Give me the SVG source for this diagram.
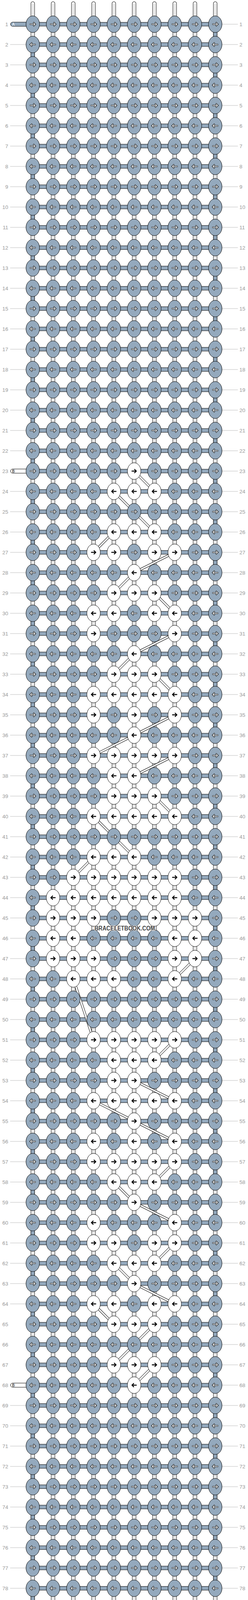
<svg xmlns="http://www.w3.org/2000/svg" width="636" height="4752" viewBox="0 0 636 4752">
<style>
.t{font-family:"Liberation Sans",Arial,sans-serif;font-size:13.5px;fill:#999}
.e{text-anchor:end}
.gl{stroke:#bbb;stroke-width:1;fill:none}
.bk{fill:none;stroke:#000}
</style>
<defs>
<g id="aw" fill="none"><path d="M-7.5 0H5.5M1.5-5L6.5 0L1.5 5" stroke="#1a1a1a" stroke-width="3.4"/><path d="M-6.8 0H5.5M2.1-4.3L6 0L2.1 4.3" stroke="#fff" stroke-width="1.4"/></g>
<g id="ab"><path d="M-6.5 0H5M0.5-5L5.5 0L0.5 5" fill="none" stroke="#000" stroke-width="2.4"/></g>
<g id="R"><ellipse rx="17.3" ry="21.3" fill="#94a9bd" stroke="#000"/><use href="#aw"/></g>
<g id="L"><ellipse rx="17.3" ry="21.3" fill="#94a9bd" stroke="#000"/><use href="#aw" transform="scale(-1 1)"/></g>
<g id="r"><ellipse rx="17.3" ry="21.3" fill="#fff" stroke="#000"/><use href="#ab"/></g>
<g id="l"><ellipse rx="17.3" ry="21.3" fill="#fff" stroke="#000"/><use href="#ab" transform="scale(-1 1)"/></g>
<path id="hb" d="M84 62h468m-468 52h468m-468 52h468m-468 52h468m-468 52h468m-468 52h468m-468 52h468m-468 52h468m-468 52h468m-468 52h468m-468 52h468m-468 52h468m-468 52h468m-468 52h468m-468 52h468m-468 52h468m-468 52h468m-468 52h468m-468 52h468m-468 52h468m-468 52h468m-468 52h468m-468 52h468m-468 52h468m-468 52h468m-468 52h468m-468 52h468m-468 52h468m-468 52h468m-468 52h468m-468 52h468m-468 52h468m-468 52h468m-468 52h468m-468 52h468m-468 52h468m-468 52h468m-468 52h468m-468 52h468m-468 52h468m-468 52h468m-468 52h468m-468 52h468m-468 52h468m-468 52h468m-468 52h468m-468 52h468m-468 52h468m-468 52h468m-468 52h468m-468 52h468m-468 52h468m-468 52h468m-468 52h468m-468 52h468m-468 52h468m-468 52h468m-468 52h468m-468 52h468m-468 52h468m-468 52h468m-468 52h468m-468 52h468m-468 52h468m-468 52h468m-468 52h468m-468 52h468m-468 52h468m-468 52h468m-468 52h468m-468 52h468m-468 52h468m-468 52h468m-468 52h468m-468 52h468m-468 52h468m-468 52h468m-468 52h468m-468 52h468m-468 52h468m-468 52h468m-468 52h468m-468 52h468m-468 52h468m-468 52h468m-468 52h468m-468 52h468m-468 52h468m-468 52h468"/>
<path id="vs" d="M84 9V4743M136 9V4743M188 9V4743M240 9V4743M292 9V4743M344 9V4743M396 9V4743M448 9V4743M500 9V4743M552 9V4743"/>
<path id="dg" d="M344 1206L396 1258M292 1258L344 1310M344 1310L396 1362M292 1362L240 1414M448 1414L344 1466M344 1466L292 1518M396 1518L448 1570M448 1622L344 1674M344 1674L292 1726M396 1726L448 1778M448 1830L344 1882M344 1882L240 1934M448 1934L344 1986M396 2038L448 2090M240 2090L292 2142M292 2142L344 2194M240 2194L188 2246M500 2454L448 2506M188 2506L240 2662M448 2662L396 2714M344 2766L448 2818M240 2818L344 2870M344 2870L448 2922M448 2974L396 3026M292 3026L344 3078M344 3078L448 3130M448 3182L396 3234M292 3234L344 3286M344 3286L448 3338M240 3338L292 3390M396 3390L344 3442M344 3442L292 3494M396 3494L344 3546"/>
</defs>
<rect width="636" height="4752" fill="#fff"/>
<g id="connectors">
<use href="#vs" class="bk" stroke-width="10.4" stroke-linecap="round"/>
<use href="#vs" fill="none" stroke="#fff" stroke-width="8.4" stroke-linecap="round"/>
<path class="gl" stroke-width="0.8" d="M82.5 9V4743M85.5 9V4743M134.5 9V4743M137.5 9V4743M186.5 9V4743M189.5 9V4743M238.5 9V4743M241.5 9V4743M290.5 9V4743M293.5 9V4743M342.5 9V4743M345.5 9V4743M394.5 9V4743M397.5 9V4743M446.5 9V4743M449.5 9V4743M498.5 9V4743M501.5 9V4743M550.5 9V4743M553.5 9V4743"/>
<path d="M552 62V4690M84 114V4690" class="bk" stroke-width="10.4" stroke-dasharray="52 52"/>
<path d="M552 62V4690M84 114V4690" fill="none" stroke="#94a9bd" stroke-width="8.4" stroke-dasharray="52 52"/>
<use href="#hb" class="bk" stroke-width="10.6"/>
<use href="#hb" fill="none" stroke="#94a9bd" stroke-width="8.6"/>
<rect x="27" y="56.7" width="60" height="10.6" rx="5.3" fill="#94a9bd" stroke="#000"/>
<rect x="27" y="4684.7" width="60" height="10.6" rx="5.3" fill="#94a9bd" stroke="#000"/>
<rect x="27" y="1200.7" width="60" height="10.6" rx="5.3" fill="#fff" stroke="#000"/>
<rect x="27" y="3540.7" width="60" height="10.6" rx="5.3" fill="#fff" stroke="#000"/>
<use href="#dg" class="bk" stroke-width="6"/>
<use href="#dg" fill="none" stroke="#fff" stroke-width="4"/>
</g>
<g id="knots">
<g transform="translate(0 62)"><g id="n1-1"><use href="#R" x="84"/></g><g id="n1-2"><use href="#R" x="136"/></g><g id="n1-3"><use href="#R" x="188"/></g><g id="n1-4"><use href="#R" x="240"/></g><g id="n1-5"><use href="#R" x="292"/></g><g id="n1-6"><use href="#R" x="344"/></g><g id="n1-7"><use href="#R" x="396"/></g><g id="n1-8"><use href="#R" x="448"/></g><g id="n1-9"><use href="#R" x="500"/></g><g id="n1-10"><use href="#R" x="552"/></g></g>
<g transform="translate(0 114)"><g id="n2-1"><use href="#L" x="84"/></g><g id="n2-2"><use href="#L" x="136"/></g><g id="n2-3"><use href="#L" x="188"/></g><g id="n2-4"><use href="#L" x="240"/></g><g id="n2-5"><use href="#L" x="292"/></g><g id="n2-6"><use href="#L" x="344"/></g><g id="n2-7"><use href="#L" x="396"/></g><g id="n2-8"><use href="#L" x="448"/></g><g id="n2-9"><use href="#L" x="500"/></g><g id="n2-10"><use href="#L" x="552"/></g></g>
<g transform="translate(0 166)"><g id="n3-1"><use href="#R" x="84"/></g><g id="n3-2"><use href="#R" x="136"/></g><g id="n3-3"><use href="#R" x="188"/></g><g id="n3-4"><use href="#R" x="240"/></g><g id="n3-5"><use href="#R" x="292"/></g><g id="n3-6"><use href="#R" x="344"/></g><g id="n3-7"><use href="#R" x="396"/></g><g id="n3-8"><use href="#R" x="448"/></g><g id="n3-9"><use href="#R" x="500"/></g><g id="n3-10"><use href="#R" x="552"/></g></g>
<g transform="translate(0 218)"><g id="n4-1"><use href="#L" x="84"/></g><g id="n4-2"><use href="#L" x="136"/></g><g id="n4-3"><use href="#L" x="188"/></g><g id="n4-4"><use href="#L" x="240"/></g><g id="n4-5"><use href="#L" x="292"/></g><g id="n4-6"><use href="#L" x="344"/></g><g id="n4-7"><use href="#L" x="396"/></g><g id="n4-8"><use href="#L" x="448"/></g><g id="n4-9"><use href="#L" x="500"/></g><g id="n4-10"><use href="#L" x="552"/></g></g>
<g transform="translate(0 270)"><g id="n5-1"><use href="#R" x="84"/></g><g id="n5-2"><use href="#R" x="136"/></g><g id="n5-3"><use href="#R" x="188"/></g><g id="n5-4"><use href="#R" x="240"/></g><g id="n5-5"><use href="#R" x="292"/></g><g id="n5-6"><use href="#R" x="344"/></g><g id="n5-7"><use href="#R" x="396"/></g><g id="n5-8"><use href="#R" x="448"/></g><g id="n5-9"><use href="#R" x="500"/></g><g id="n5-10"><use href="#R" x="552"/></g></g>
<g transform="translate(0 322)"><g id="n6-1"><use href="#L" x="84"/></g><g id="n6-2"><use href="#L" x="136"/></g><g id="n6-3"><use href="#L" x="188"/></g><g id="n6-4"><use href="#L" x="240"/></g><g id="n6-5"><use href="#L" x="292"/></g><g id="n6-6"><use href="#L" x="344"/></g><g id="n6-7"><use href="#L" x="396"/></g><g id="n6-8"><use href="#L" x="448"/></g><g id="n6-9"><use href="#L" x="500"/></g><g id="n6-10"><use href="#L" x="552"/></g></g>
<g transform="translate(0 374)"><g id="n7-1"><use href="#R" x="84"/></g><g id="n7-2"><use href="#R" x="136"/></g><g id="n7-3"><use href="#R" x="188"/></g><g id="n7-4"><use href="#R" x="240"/></g><g id="n7-5"><use href="#R" x="292"/></g><g id="n7-6"><use href="#R" x="344"/></g><g id="n7-7"><use href="#R" x="396"/></g><g id="n7-8"><use href="#R" x="448"/></g><g id="n7-9"><use href="#R" x="500"/></g><g id="n7-10"><use href="#R" x="552"/></g></g>
<g transform="translate(0 426)"><g id="n8-1"><use href="#L" x="84"/></g><g id="n8-2"><use href="#L" x="136"/></g><g id="n8-3"><use href="#L" x="188"/></g><g id="n8-4"><use href="#L" x="240"/></g><g id="n8-5"><use href="#L" x="292"/></g><g id="n8-6"><use href="#L" x="344"/></g><g id="n8-7"><use href="#L" x="396"/></g><g id="n8-8"><use href="#L" x="448"/></g><g id="n8-9"><use href="#L" x="500"/></g><g id="n8-10"><use href="#L" x="552"/></g></g>
<g transform="translate(0 478)"><g id="n9-1"><use href="#R" x="84"/></g><g id="n9-2"><use href="#R" x="136"/></g><g id="n9-3"><use href="#R" x="188"/></g><g id="n9-4"><use href="#R" x="240"/></g><g id="n9-5"><use href="#R" x="292"/></g><g id="n9-6"><use href="#R" x="344"/></g><g id="n9-7"><use href="#R" x="396"/></g><g id="n9-8"><use href="#R" x="448"/></g><g id="n9-9"><use href="#R" x="500"/></g><g id="n9-10"><use href="#R" x="552"/></g></g>
<g transform="translate(0 530)"><g id="n10-1"><use href="#L" x="84"/></g><g id="n10-2"><use href="#L" x="136"/></g><g id="n10-3"><use href="#L" x="188"/></g><g id="n10-4"><use href="#L" x="240"/></g><g id="n10-5"><use href="#L" x="292"/></g><g id="n10-6"><use href="#L" x="344"/></g><g id="n10-7"><use href="#L" x="396"/></g><g id="n10-8"><use href="#L" x="448"/></g><g id="n10-9"><use href="#L" x="500"/></g><g id="n10-10"><use href="#L" x="552"/></g></g>
<g transform="translate(0 582)"><g id="n11-1"><use href="#R" x="84"/></g><g id="n11-2"><use href="#R" x="136"/></g><g id="n11-3"><use href="#R" x="188"/></g><g id="n11-4"><use href="#R" x="240"/></g><g id="n11-5"><use href="#R" x="292"/></g><g id="n11-6"><use href="#R" x="344"/></g><g id="n11-7"><use href="#R" x="396"/></g><g id="n11-8"><use href="#R" x="448"/></g><g id="n11-9"><use href="#R" x="500"/></g><g id="n11-10"><use href="#R" x="552"/></g></g>
<g transform="translate(0 634)"><g id="n12-1"><use href="#L" x="84"/></g><g id="n12-2"><use href="#L" x="136"/></g><g id="n12-3"><use href="#L" x="188"/></g><g id="n12-4"><use href="#L" x="240"/></g><g id="n12-5"><use href="#L" x="292"/></g><g id="n12-6"><use href="#L" x="344"/></g><g id="n12-7"><use href="#L" x="396"/></g><g id="n12-8"><use href="#L" x="448"/></g><g id="n12-9"><use href="#L" x="500"/></g><g id="n12-10"><use href="#L" x="552"/></g></g>
<g transform="translate(0 686)"><g id="n13-1"><use href="#R" x="84"/></g><g id="n13-2"><use href="#R" x="136"/></g><g id="n13-3"><use href="#R" x="188"/></g><g id="n13-4"><use href="#R" x="240"/></g><g id="n13-5"><use href="#R" x="292"/></g><g id="n13-6"><use href="#R" x="344"/></g><g id="n13-7"><use href="#R" x="396"/></g><g id="n13-8"><use href="#R" x="448"/></g><g id="n13-9"><use href="#R" x="500"/></g><g id="n13-10"><use href="#R" x="552"/></g></g>
<g transform="translate(0 738)"><g id="n14-1"><use href="#L" x="84"/></g><g id="n14-2"><use href="#L" x="136"/></g><g id="n14-3"><use href="#L" x="188"/></g><g id="n14-4"><use href="#L" x="240"/></g><g id="n14-5"><use href="#L" x="292"/></g><g id="n14-6"><use href="#L" x="344"/></g><g id="n14-7"><use href="#L" x="396"/></g><g id="n14-8"><use href="#L" x="448"/></g><g id="n14-9"><use href="#L" x="500"/></g><g id="n14-10"><use href="#L" x="552"/></g></g>
<g transform="translate(0 790)"><g id="n15-1"><use href="#R" x="84"/></g><g id="n15-2"><use href="#R" x="136"/></g><g id="n15-3"><use href="#R" x="188"/></g><g id="n15-4"><use href="#R" x="240"/></g><g id="n15-5"><use href="#R" x="292"/></g><g id="n15-6"><use href="#R" x="344"/></g><g id="n15-7"><use href="#R" x="396"/></g><g id="n15-8"><use href="#R" x="448"/></g><g id="n15-9"><use href="#R" x="500"/></g><g id="n15-10"><use href="#R" x="552"/></g></g>
<g transform="translate(0 842)"><g id="n16-1"><use href="#L" x="84"/></g><g id="n16-2"><use href="#L" x="136"/></g><g id="n16-3"><use href="#L" x="188"/></g><g id="n16-4"><use href="#L" x="240"/></g><g id="n16-5"><use href="#L" x="292"/></g><g id="n16-6"><use href="#L" x="344"/></g><g id="n16-7"><use href="#L" x="396"/></g><g id="n16-8"><use href="#L" x="448"/></g><g id="n16-9"><use href="#L" x="500"/></g><g id="n16-10"><use href="#L" x="552"/></g></g>
<g transform="translate(0 894)"><g id="n17-1"><use href="#R" x="84"/></g><g id="n17-2"><use href="#R" x="136"/></g><g id="n17-3"><use href="#R" x="188"/></g><g id="n17-4"><use href="#R" x="240"/></g><g id="n17-5"><use href="#R" x="292"/></g><g id="n17-6"><use href="#R" x="344"/></g><g id="n17-7"><use href="#R" x="396"/></g><g id="n17-8"><use href="#R" x="448"/></g><g id="n17-9"><use href="#R" x="500"/></g><g id="n17-10"><use href="#R" x="552"/></g></g>
<g transform="translate(0 946)"><g id="n18-1"><use href="#L" x="84"/></g><g id="n18-2"><use href="#L" x="136"/></g><g id="n18-3"><use href="#L" x="188"/></g><g id="n18-4"><use href="#L" x="240"/></g><g id="n18-5"><use href="#L" x="292"/></g><g id="n18-6"><use href="#L" x="344"/></g><g id="n18-7"><use href="#L" x="396"/></g><g id="n18-8"><use href="#L" x="448"/></g><g id="n18-9"><use href="#L" x="500"/></g><g id="n18-10"><use href="#L" x="552"/></g></g>
<g transform="translate(0 998)"><g id="n19-1"><use href="#R" x="84"/></g><g id="n19-2"><use href="#R" x="136"/></g><g id="n19-3"><use href="#R" x="188"/></g><g id="n19-4"><use href="#R" x="240"/></g><g id="n19-5"><use href="#R" x="292"/></g><g id="n19-6"><use href="#R" x="344"/></g><g id="n19-7"><use href="#R" x="396"/></g><g id="n19-8"><use href="#R" x="448"/></g><g id="n19-9"><use href="#R" x="500"/></g><g id="n19-10"><use href="#R" x="552"/></g></g>
<g transform="translate(0 1050)"><g id="n20-1"><use href="#L" x="84"/></g><g id="n20-2"><use href="#L" x="136"/></g><g id="n20-3"><use href="#L" x="188"/></g><g id="n20-4"><use href="#L" x="240"/></g><g id="n20-5"><use href="#L" x="292"/></g><g id="n20-6"><use href="#L" x="344"/></g><g id="n20-7"><use href="#L" x="396"/></g><g id="n20-8"><use href="#L" x="448"/></g><g id="n20-9"><use href="#L" x="500"/></g><g id="n20-10"><use href="#L" x="552"/></g></g>
<g transform="translate(0 1102)"><g id="n21-1"><use href="#R" x="84"/></g><g id="n21-2"><use href="#R" x="136"/></g><g id="n21-3"><use href="#R" x="188"/></g><g id="n21-4"><use href="#R" x="240"/></g><g id="n21-5"><use href="#R" x="292"/></g><g id="n21-6"><use href="#R" x="344"/></g><g id="n21-7"><use href="#R" x="396"/></g><g id="n21-8"><use href="#R" x="448"/></g><g id="n21-9"><use href="#R" x="500"/></g><g id="n21-10"><use href="#R" x="552"/></g></g>
<g transform="translate(0 1154)"><g id="n22-1"><use href="#L" x="84"/></g><g id="n22-2"><use href="#L" x="136"/></g><g id="n22-3"><use href="#L" x="188"/></g><g id="n22-4"><use href="#L" x="240"/></g><g id="n22-5"><use href="#L" x="292"/></g><g id="n22-6"><use href="#L" x="344"/></g><g id="n22-7"><use href="#L" x="396"/></g><g id="n22-8"><use href="#L" x="448"/></g><g id="n22-9"><use href="#L" x="500"/></g><g id="n22-10"><use href="#L" x="552"/></g></g>
<g transform="translate(0 1206)"><g id="n23-1"><use href="#R" x="84"/></g><g id="n23-2"><use href="#R" x="136"/></g><g id="n23-3"><use href="#R" x="188"/></g><g id="n23-4"><use href="#R" x="240"/></g><g id="n23-5"><use href="#R" x="292"/></g><g id="n23-6"><use href="#r" x="344"/></g><g id="n23-7"><use href="#R" x="396"/></g><g id="n23-8"><use href="#R" x="448"/></g><g id="n23-9"><use href="#R" x="500"/></g><g id="n23-10"><use href="#R" x="552"/></g></g>
<g transform="translate(0 1258)"><g id="n24-1"><use href="#L" x="84"/></g><g id="n24-2"><use href="#L" x="136"/></g><g id="n24-3"><use href="#L" x="188"/></g><g id="n24-4"><use href="#L" x="240"/></g><g id="n24-5"><use href="#l" x="292"/></g><g id="n24-6"><use href="#l" x="344"/></g><g id="n24-7"><use href="#l" x="396"/></g><g id="n24-8"><use href="#L" x="448"/></g><g id="n24-9"><use href="#L" x="500"/></g><g id="n24-10"><use href="#L" x="552"/></g></g>
<g transform="translate(0 1310)"><g id="n25-1"><use href="#R" x="84"/></g><g id="n25-2"><use href="#R" x="136"/></g><g id="n25-3"><use href="#R" x="188"/></g><g id="n25-4"><use href="#R" x="240"/></g><g id="n25-5"><use href="#R" x="292"/></g><g id="n25-6"><use href="#R" x="344"/></g><g id="n25-7"><use href="#R" x="396"/></g><g id="n25-8"><use href="#R" x="448"/></g><g id="n25-9"><use href="#R" x="500"/></g><g id="n25-10"><use href="#R" x="552"/></g></g>
<g transform="translate(0 1362)"><g id="n26-1"><use href="#L" x="84"/></g><g id="n26-2"><use href="#L" x="136"/></g><g id="n26-3"><use href="#L" x="188"/></g><g id="n26-4"><use href="#L" x="240"/></g><g id="n26-5"><use href="#l" x="292"/></g><g id="n26-6"><use href="#l" x="344"/></g><g id="n26-7"><use href="#l" x="396"/></g><g id="n26-8"><use href="#L" x="448"/></g><g id="n26-9"><use href="#L" x="500"/></g><g id="n26-10"><use href="#L" x="552"/></g></g>
<g transform="translate(0 1414)"><g id="n27-1"><use href="#R" x="84"/></g><g id="n27-2"><use href="#R" x="136"/></g><g id="n27-3"><use href="#R" x="188"/></g><g id="n27-4"><use href="#r" x="240"/></g><g id="n27-5"><use href="#r" x="292"/></g><g id="n27-6"><use href="#R" x="344"/></g><g id="n27-7"><use href="#r" x="396"/></g><g id="n27-8"><use href="#r" x="448"/></g><g id="n27-9"><use href="#R" x="500"/></g><g id="n27-10"><use href="#R" x="552"/></g></g>
<g transform="translate(0 1466)"><g id="n28-1"><use href="#L" x="84"/></g><g id="n28-2"><use href="#L" x="136"/></g><g id="n28-3"><use href="#L" x="188"/></g><g id="n28-4"><use href="#L" x="240"/></g><g id="n28-5"><use href="#L" x="292"/></g><g id="n28-6"><use href="#l" x="344"/></g><g id="n28-7"><use href="#L" x="396"/></g><g id="n28-8"><use href="#L" x="448"/></g><g id="n28-9"><use href="#L" x="500"/></g><g id="n28-10"><use href="#L" x="552"/></g></g>
<g transform="translate(0 1518)"><g id="n29-1"><use href="#R" x="84"/></g><g id="n29-2"><use href="#R" x="136"/></g><g id="n29-3"><use href="#R" x="188"/></g><g id="n29-4"><use href="#R" x="240"/></g><g id="n29-5"><use href="#r" x="292"/></g><g id="n29-6"><use href="#r" x="344"/></g><g id="n29-7"><use href="#r" x="396"/></g><g id="n29-8"><use href="#R" x="448"/></g><g id="n29-9"><use href="#R" x="500"/></g><g id="n29-10"><use href="#R" x="552"/></g></g>
<g transform="translate(0 1570)"><g id="n30-1"><use href="#L" x="84"/></g><g id="n30-2"><use href="#L" x="136"/></g><g id="n30-3"><use href="#L" x="188"/></g><g id="n30-4"><use href="#l" x="240"/></g><g id="n30-5"><use href="#l" x="292"/></g><g id="n30-6"><use href="#L" x="344"/></g><g id="n30-7"><use href="#l" x="396"/></g><g id="n30-8"><use href="#l" x="448"/></g><g id="n30-9"><use href="#L" x="500"/></g><g id="n30-10"><use href="#L" x="552"/></g></g>
<g transform="translate(0 1622)"><g id="n31-1"><use href="#R" x="84"/></g><g id="n31-2"><use href="#R" x="136"/></g><g id="n31-3"><use href="#R" x="188"/></g><g id="n31-4"><use href="#r" x="240"/></g><g id="n31-5"><use href="#R" x="292"/></g><g id="n31-6"><use href="#R" x="344"/></g><g id="n31-7"><use href="#R" x="396"/></g><g id="n31-8"><use href="#r" x="448"/></g><g id="n31-9"><use href="#R" x="500"/></g><g id="n31-10"><use href="#R" x="552"/></g></g>
<g transform="translate(0 1674)"><g id="n32-1"><use href="#L" x="84"/></g><g id="n32-2"><use href="#L" x="136"/></g><g id="n32-3"><use href="#L" x="188"/></g><g id="n32-4"><use href="#L" x="240"/></g><g id="n32-5"><use href="#L" x="292"/></g><g id="n32-6"><use href="#l" x="344"/></g><g id="n32-7"><use href="#L" x="396"/></g><g id="n32-8"><use href="#L" x="448"/></g><g id="n32-9"><use href="#L" x="500"/></g><g id="n32-10"><use href="#L" x="552"/></g></g>
<g transform="translate(0 1726)"><g id="n33-1"><use href="#R" x="84"/></g><g id="n33-2"><use href="#R" x="136"/></g><g id="n33-3"><use href="#R" x="188"/></g><g id="n33-4"><use href="#R" x="240"/></g><g id="n33-5"><use href="#r" x="292"/></g><g id="n33-6"><use href="#r" x="344"/></g><g id="n33-7"><use href="#r" x="396"/></g><g id="n33-8"><use href="#R" x="448"/></g><g id="n33-9"><use href="#R" x="500"/></g><g id="n33-10"><use href="#R" x="552"/></g></g>
<g transform="translate(0 1778)"><g id="n34-1"><use href="#L" x="84"/></g><g id="n34-2"><use href="#L" x="136"/></g><g id="n34-3"><use href="#L" x="188"/></g><g id="n34-4"><use href="#l" x="240"/></g><g id="n34-5"><use href="#l" x="292"/></g><g id="n34-6"><use href="#l" x="344"/></g><g id="n34-7"><use href="#l" x="396"/></g><g id="n34-8"><use href="#l" x="448"/></g><g id="n34-9"><use href="#L" x="500"/></g><g id="n34-10"><use href="#L" x="552"/></g></g>
<g transform="translate(0 1830)"><g id="n35-1"><use href="#R" x="84"/></g><g id="n35-2"><use href="#R" x="136"/></g><g id="n35-3"><use href="#R" x="188"/></g><g id="n35-4"><use href="#r" x="240"/></g><g id="n35-5"><use href="#R" x="292"/></g><g id="n35-6"><use href="#r" x="344"/></g><g id="n35-7"><use href="#R" x="396"/></g><g id="n35-8"><use href="#r" x="448"/></g><g id="n35-9"><use href="#R" x="500"/></g><g id="n35-10"><use href="#R" x="552"/></g></g>
<g transform="translate(0 1882)"><g id="n36-1"><use href="#L" x="84"/></g><g id="n36-2"><use href="#L" x="136"/></g><g id="n36-3"><use href="#L" x="188"/></g><g id="n36-4"><use href="#L" x="240"/></g><g id="n36-5"><use href="#L" x="292"/></g><g id="n36-6"><use href="#l" x="344"/></g><g id="n36-7"><use href="#L" x="396"/></g><g id="n36-8"><use href="#L" x="448"/></g><g id="n36-9"><use href="#L" x="500"/></g><g id="n36-10"><use href="#L" x="552"/></g></g>
<g transform="translate(0 1934)"><g id="n37-1"><use href="#R" x="84"/></g><g id="n37-2"><use href="#R" x="136"/></g><g id="n37-3"><use href="#R" x="188"/></g><g id="n37-4"><use href="#r" x="240"/></g><g id="n37-5"><use href="#r" x="292"/></g><g id="n37-6"><use href="#r" x="344"/></g><g id="n37-7"><use href="#r" x="396"/></g><g id="n37-8"><use href="#r" x="448"/></g><g id="n37-9"><use href="#R" x="500"/></g><g id="n37-10"><use href="#R" x="552"/></g></g>
<g transform="translate(0 1986)"><g id="n38-1"><use href="#L" x="84"/></g><g id="n38-2"><use href="#L" x="136"/></g><g id="n38-3"><use href="#L" x="188"/></g><g id="n38-4"><use href="#L" x="240"/></g><g id="n38-5"><use href="#l" x="292"/></g><g id="n38-6"><use href="#l" x="344"/></g><g id="n38-7"><use href="#L" x="396"/></g><g id="n38-8"><use href="#L" x="448"/></g><g id="n38-9"><use href="#L" x="500"/></g><g id="n38-10"><use href="#L" x="552"/></g></g>
<g transform="translate(0 2038)"><g id="n39-1"><use href="#R" x="84"/></g><g id="n39-2"><use href="#R" x="136"/></g><g id="n39-3"><use href="#R" x="188"/></g><g id="n39-4"><use href="#R" x="240"/></g><g id="n39-5"><use href="#r" x="292"/></g><g id="n39-6"><use href="#r" x="344"/></g><g id="n39-7"><use href="#r" x="396"/></g><g id="n39-8"><use href="#R" x="448"/></g><g id="n39-9"><use href="#R" x="500"/></g><g id="n39-10"><use href="#R" x="552"/></g></g>
<g transform="translate(0 2090)"><g id="n40-1"><use href="#L" x="84"/></g><g id="n40-2"><use href="#L" x="136"/></g><g id="n40-3"><use href="#L" x="188"/></g><g id="n40-4"><use href="#l" x="240"/></g><g id="n40-5"><use href="#l" x="292"/></g><g id="n40-6"><use href="#l" x="344"/></g><g id="n40-7"><use href="#l" x="396"/></g><g id="n40-8"><use href="#l" x="448"/></g><g id="n40-9"><use href="#L" x="500"/></g><g id="n40-10"><use href="#L" x="552"/></g></g>
<g transform="translate(0 2142)"><g id="n41-1"><use href="#R" x="84"/></g><g id="n41-2"><use href="#R" x="136"/></g><g id="n41-3"><use href="#R" x="188"/></g><g id="n41-4"><use href="#R" x="240"/></g><g id="n41-5"><use href="#R" x="292"/></g><g id="n41-6"><use href="#R" x="344"/></g><g id="n41-7"><use href="#R" x="396"/></g><g id="n41-8"><use href="#R" x="448"/></g><g id="n41-9"><use href="#R" x="500"/></g><g id="n41-10"><use href="#R" x="552"/></g></g>
<g transform="translate(0 2194)"><g id="n42-1"><use href="#L" x="84"/></g><g id="n42-2"><use href="#L" x="136"/></g><g id="n42-3"><use href="#L" x="188"/></g><g id="n42-4"><use href="#l" x="240"/></g><g id="n42-5"><use href="#l" x="292"/></g><g id="n42-6"><use href="#l" x="344"/></g><g id="n42-7"><use href="#L" x="396"/></g><g id="n42-8"><use href="#L" x="448"/></g><g id="n42-9"><use href="#L" x="500"/></g><g id="n42-10"><use href="#L" x="552"/></g></g>
<g transform="translate(0 2246)"><g id="n43-1"><use href="#R" x="84"/></g><g id="n43-2"><use href="#R" x="136"/></g><g id="n43-3"><use href="#r" x="188"/></g><g id="n43-4"><use href="#r" x="240"/></g><g id="n43-5"><use href="#r" x="292"/></g><g id="n43-6"><use href="#r" x="344"/></g><g id="n43-7"><use href="#r" x="396"/></g><g id="n43-8"><use href="#r" x="448"/></g><g id="n43-9"><use href="#R" x="500"/></g><g id="n43-10"><use href="#R" x="552"/></g></g>
<g transform="translate(0 2298)"><g id="n44-1"><use href="#L" x="84"/></g><g id="n44-2"><use href="#l" x="136"/></g><g id="n44-3"><use href="#l" x="188"/></g><g id="n44-4"><use href="#l" x="240"/></g><g id="n44-5"><use href="#l" x="292"/></g><g id="n44-6"><use href="#l" x="344"/></g><g id="n44-7"><use href="#l" x="396"/></g><g id="n44-8"><use href="#l" x="448"/></g><g id="n44-9"><use href="#L" x="500"/></g><g id="n44-10"><use href="#L" x="552"/></g></g>
<g transform="translate(0 2350)"><g id="n45-1"><use href="#R" x="84"/></g><g id="n45-2"><use href="#r" x="136"/></g><g id="n45-3"><use href="#r" x="188"/></g><g id="n45-4"><use href="#r" x="240"/></g><g id="n45-5"><use href="#R" x="292"/></g><g id="n45-6"><use href="#R" x="344"/></g><g id="n45-7"><use href="#r" x="396"/></g><g id="n45-8"><use href="#r" x="448"/></g><g id="n45-9"><use href="#r" x="500"/></g><g id="n45-10"><use href="#R" x="552"/></g></g>
<g transform="translate(0 2402)"><g id="n46-1"><use href="#L" x="84"/></g><g id="n46-2"><use href="#l" x="136"/></g><g id="n46-3"><use href="#l" x="188"/></g><g id="n46-4"><use href="#L" x="240"/></g><g id="n46-5"><use href="#L" x="292"/></g><g id="n46-6"><use href="#L" x="344"/></g><g id="n46-7"><use href="#L" x="396"/></g><g id="n46-8"><use href="#l" x="448"/></g><g id="n46-9"><use href="#l" x="500"/></g><g id="n46-10"><use href="#L" x="552"/></g></g>
<g transform="translate(0 2454)"><g id="n47-1"><use href="#R" x="84"/></g><g id="n47-2"><use href="#r" x="136"/></g><g id="n47-3"><use href="#r" x="188"/></g><g id="n47-4"><use href="#r" x="240"/></g><g id="n47-5"><use href="#R" x="292"/></g><g id="n47-6"><use href="#R" x="344"/></g><g id="n47-7"><use href="#R" x="396"/></g><g id="n47-8"><use href="#r" x="448"/></g><g id="n47-9"><use href="#r" x="500"/></g><g id="n47-10"><use href="#R" x="552"/></g></g>
<g transform="translate(0 2506)"><g id="n48-1"><use href="#L" x="84"/></g><g id="n48-2"><use href="#L" x="136"/></g><g id="n48-3"><use href="#l" x="188"/></g><g id="n48-4"><use href="#l" x="240"/></g><g id="n48-5"><use href="#l" x="292"/></g><g id="n48-6"><use href="#L" x="344"/></g><g id="n48-7"><use href="#L" x="396"/></g><g id="n48-8"><use href="#l" x="448"/></g><g id="n48-9"><use href="#L" x="500"/></g><g id="n48-10"><use href="#L" x="552"/></g></g>
<g transform="translate(0 2558)"><g id="n49-1"><use href="#R" x="84"/></g><g id="n49-2"><use href="#R" x="136"/></g><g id="n49-3"><use href="#R" x="188"/></g><g id="n49-4"><use href="#R" x="240"/></g><g id="n49-5"><use href="#R" x="292"/></g><g id="n49-6"><use href="#R" x="344"/></g><g id="n49-7"><use href="#R" x="396"/></g><g id="n49-8"><use href="#R" x="448"/></g><g id="n49-9"><use href="#R" x="500"/></g><g id="n49-10"><use href="#R" x="552"/></g></g>
<g transform="translate(0 2610)"><g id="n50-1"><use href="#L" x="84"/></g><g id="n50-2"><use href="#L" x="136"/></g><g id="n50-3"><use href="#L" x="188"/></g><g id="n50-4"><use href="#L" x="240"/></g><g id="n50-5"><use href="#L" x="292"/></g><g id="n50-6"><use href="#L" x="344"/></g><g id="n50-7"><use href="#L" x="396"/></g><g id="n50-8"><use href="#L" x="448"/></g><g id="n50-9"><use href="#L" x="500"/></g><g id="n50-10"><use href="#L" x="552"/></g></g>
<g transform="translate(0 2662)"><g id="n51-1"><use href="#R" x="84"/></g><g id="n51-2"><use href="#R" x="136"/></g><g id="n51-3"><use href="#R" x="188"/></g><g id="n51-4"><use href="#r" x="240"/></g><g id="n51-5"><use href="#r" x="292"/></g><g id="n51-6"><use href="#r" x="344"/></g><g id="n51-7"><use href="#r" x="396"/></g><g id="n51-8"><use href="#r" x="448"/></g><g id="n51-9"><use href="#R" x="500"/></g><g id="n51-10"><use href="#R" x="552"/></g></g>
<g transform="translate(0 2714)"><g id="n52-1"><use href="#L" x="84"/></g><g id="n52-2"><use href="#L" x="136"/></g><g id="n52-3"><use href="#L" x="188"/></g><g id="n52-4"><use href="#L" x="240"/></g><g id="n52-5"><use href="#l" x="292"/></g><g id="n52-6"><use href="#l" x="344"/></g><g id="n52-7"><use href="#l" x="396"/></g><g id="n52-8"><use href="#L" x="448"/></g><g id="n52-9"><use href="#L" x="500"/></g><g id="n52-10"><use href="#L" x="552"/></g></g>
<g transform="translate(0 2766)"><g id="n53-1"><use href="#R" x="84"/></g><g id="n53-2"><use href="#R" x="136"/></g><g id="n53-3"><use href="#R" x="188"/></g><g id="n53-4"><use href="#R" x="240"/></g><g id="n53-5"><use href="#r" x="292"/></g><g id="n53-6"><use href="#r" x="344"/></g><g id="n53-7"><use href="#R" x="396"/></g><g id="n53-8"><use href="#R" x="448"/></g><g id="n53-9"><use href="#R" x="500"/></g><g id="n53-10"><use href="#R" x="552"/></g></g>
<g transform="translate(0 2818)"><g id="n54-1"><use href="#L" x="84"/></g><g id="n54-2"><use href="#L" x="136"/></g><g id="n54-3"><use href="#L" x="188"/></g><g id="n54-4"><use href="#l" x="240"/></g><g id="n54-5"><use href="#l" x="292"/></g><g id="n54-6"><use href="#l" x="344"/></g><g id="n54-7"><use href="#l" x="396"/></g><g id="n54-8"><use href="#l" x="448"/></g><g id="n54-9"><use href="#L" x="500"/></g><g id="n54-10"><use href="#L" x="552"/></g></g>
<g transform="translate(0 2870)"><g id="n55-1"><use href="#R" x="84"/></g><g id="n55-2"><use href="#R" x="136"/></g><g id="n55-3"><use href="#R" x="188"/></g><g id="n55-4"><use href="#R" x="240"/></g><g id="n55-5"><use href="#R" x="292"/></g><g id="n55-6"><use href="#r" x="344"/></g><g id="n55-7"><use href="#R" x="396"/></g><g id="n55-8"><use href="#R" x="448"/></g><g id="n55-9"><use href="#R" x="500"/></g><g id="n55-10"><use href="#R" x="552"/></g></g>
<g transform="translate(0 2922)"><g id="n56-1"><use href="#L" x="84"/></g><g id="n56-2"><use href="#L" x="136"/></g><g id="n56-3"><use href="#L" x="188"/></g><g id="n56-4"><use href="#l" x="240"/></g><g id="n56-5"><use href="#L" x="292"/></g><g id="n56-6"><use href="#l" x="344"/></g><g id="n56-7"><use href="#L" x="396"/></g><g id="n56-8"><use href="#l" x="448"/></g><g id="n56-9"><use href="#L" x="500"/></g><g id="n56-10"><use href="#L" x="552"/></g></g>
<g transform="translate(0 2974)"><g id="n57-1"><use href="#R" x="84"/></g><g id="n57-2"><use href="#R" x="136"/></g><g id="n57-3"><use href="#R" x="188"/></g><g id="n57-4"><use href="#r" x="240"/></g><g id="n57-5"><use href="#r" x="292"/></g><g id="n57-6"><use href="#r" x="344"/></g><g id="n57-7"><use href="#r" x="396"/></g><g id="n57-8"><use href="#r" x="448"/></g><g id="n57-9"><use href="#R" x="500"/></g><g id="n57-10"><use href="#R" x="552"/></g></g>
<g transform="translate(0 3026)"><g id="n58-1"><use href="#L" x="84"/></g><g id="n58-2"><use href="#L" x="136"/></g><g id="n58-3"><use href="#L" x="188"/></g><g id="n58-4"><use href="#L" x="240"/></g><g id="n58-5"><use href="#l" x="292"/></g><g id="n58-6"><use href="#l" x="344"/></g><g id="n58-7"><use href="#l" x="396"/></g><g id="n58-8"><use href="#L" x="448"/></g><g id="n58-9"><use href="#L" x="500"/></g><g id="n58-10"><use href="#L" x="552"/></g></g>
<g transform="translate(0 3078)"><g id="n59-1"><use href="#R" x="84"/></g><g id="n59-2"><use href="#R" x="136"/></g><g id="n59-3"><use href="#R" x="188"/></g><g id="n59-4"><use href="#R" x="240"/></g><g id="n59-5"><use href="#R" x="292"/></g><g id="n59-6"><use href="#r" x="344"/></g><g id="n59-7"><use href="#R" x="396"/></g><g id="n59-8"><use href="#R" x="448"/></g><g id="n59-9"><use href="#R" x="500"/></g><g id="n59-10"><use href="#R" x="552"/></g></g>
<g transform="translate(0 3130)"><g id="n60-1"><use href="#L" x="84"/></g><g id="n60-2"><use href="#L" x="136"/></g><g id="n60-3"><use href="#L" x="188"/></g><g id="n60-4"><use href="#l" x="240"/></g><g id="n60-5"><use href="#L" x="292"/></g><g id="n60-6"><use href="#L" x="344"/></g><g id="n60-7"><use href="#L" x="396"/></g><g id="n60-8"><use href="#l" x="448"/></g><g id="n60-9"><use href="#L" x="500"/></g><g id="n60-10"><use href="#L" x="552"/></g></g>
<g transform="translate(0 3182)"><g id="n61-1"><use href="#R" x="84"/></g><g id="n61-2"><use href="#R" x="136"/></g><g id="n61-3"><use href="#R" x="188"/></g><g id="n61-4"><use href="#r" x="240"/></g><g id="n61-5"><use href="#r" x="292"/></g><g id="n61-6"><use href="#R" x="344"/></g><g id="n61-7"><use href="#r" x="396"/></g><g id="n61-8"><use href="#r" x="448"/></g><g id="n61-9"><use href="#R" x="500"/></g><g id="n61-10"><use href="#R" x="552"/></g></g>
<g transform="translate(0 3234)"><g id="n62-1"><use href="#L" x="84"/></g><g id="n62-2"><use href="#L" x="136"/></g><g id="n62-3"><use href="#L" x="188"/></g><g id="n62-4"><use href="#L" x="240"/></g><g id="n62-5"><use href="#l" x="292"/></g><g id="n62-6"><use href="#l" x="344"/></g><g id="n62-7"><use href="#l" x="396"/></g><g id="n62-8"><use href="#L" x="448"/></g><g id="n62-9"><use href="#L" x="500"/></g><g id="n62-10"><use href="#L" x="552"/></g></g>
<g transform="translate(0 3286)"><g id="n63-1"><use href="#R" x="84"/></g><g id="n63-2"><use href="#R" x="136"/></g><g id="n63-3"><use href="#R" x="188"/></g><g id="n63-4"><use href="#R" x="240"/></g><g id="n63-5"><use href="#R" x="292"/></g><g id="n63-6"><use href="#r" x="344"/></g><g id="n63-7"><use href="#R" x="396"/></g><g id="n63-8"><use href="#R" x="448"/></g><g id="n63-9"><use href="#R" x="500"/></g><g id="n63-10"><use href="#R" x="552"/></g></g>
<g transform="translate(0 3338)"><g id="n64-1"><use href="#L" x="84"/></g><g id="n64-2"><use href="#L" x="136"/></g><g id="n64-3"><use href="#L" x="188"/></g><g id="n64-4"><use href="#l" x="240"/></g><g id="n64-5"><use href="#l" x="292"/></g><g id="n64-6"><use href="#L" x="344"/></g><g id="n64-7"><use href="#l" x="396"/></g><g id="n64-8"><use href="#l" x="448"/></g><g id="n64-9"><use href="#L" x="500"/></g><g id="n64-10"><use href="#L" x="552"/></g></g>
<g transform="translate(0 3390)"><g id="n65-1"><use href="#R" x="84"/></g><g id="n65-2"><use href="#R" x="136"/></g><g id="n65-3"><use href="#R" x="188"/></g><g id="n65-4"><use href="#R" x="240"/></g><g id="n65-5"><use href="#r" x="292"/></g><g id="n65-6"><use href="#r" x="344"/></g><g id="n65-7"><use href="#r" x="396"/></g><g id="n65-8"><use href="#R" x="448"/></g><g id="n65-9"><use href="#R" x="500"/></g><g id="n65-10"><use href="#R" x="552"/></g></g>
<g transform="translate(0 3442)"><g id="n66-1"><use href="#L" x="84"/></g><g id="n66-2"><use href="#L" x="136"/></g><g id="n66-3"><use href="#L" x="188"/></g><g id="n66-4"><use href="#L" x="240"/></g><g id="n66-5"><use href="#L" x="292"/></g><g id="n66-6"><use href="#L" x="344"/></g><g id="n66-7"><use href="#L" x="396"/></g><g id="n66-8"><use href="#L" x="448"/></g><g id="n66-9"><use href="#L" x="500"/></g><g id="n66-10"><use href="#L" x="552"/></g></g>
<g transform="translate(0 3494)"><g id="n67-1"><use href="#R" x="84"/></g><g id="n67-2"><use href="#R" x="136"/></g><g id="n67-3"><use href="#R" x="188"/></g><g id="n67-4"><use href="#R" x="240"/></g><g id="n67-5"><use href="#r" x="292"/></g><g id="n67-6"><use href="#r" x="344"/></g><g id="n67-7"><use href="#r" x="396"/></g><g id="n67-8"><use href="#R" x="448"/></g><g id="n67-9"><use href="#R" x="500"/></g><g id="n67-10"><use href="#R" x="552"/></g></g>
<g transform="translate(0 3546)"><g id="n68-1"><use href="#L" x="84"/></g><g id="n68-2"><use href="#L" x="136"/></g><g id="n68-3"><use href="#L" x="188"/></g><g id="n68-4"><use href="#L" x="240"/></g><g id="n68-5"><use href="#L" x="292"/></g><g id="n68-6"><use href="#l" x="344"/></g><g id="n68-7"><use href="#L" x="396"/></g><g id="n68-8"><use href="#L" x="448"/></g><g id="n68-9"><use href="#L" x="500"/></g><g id="n68-10"><use href="#L" x="552"/></g></g>
<g transform="translate(0 3598)"><g id="n69-1"><use href="#R" x="84"/></g><g id="n69-2"><use href="#R" x="136"/></g><g id="n69-3"><use href="#R" x="188"/></g><g id="n69-4"><use href="#R" x="240"/></g><g id="n69-5"><use href="#R" x="292"/></g><g id="n69-6"><use href="#R" x="344"/></g><g id="n69-7"><use href="#R" x="396"/></g><g id="n69-8"><use href="#R" x="448"/></g><g id="n69-9"><use href="#R" x="500"/></g><g id="n69-10"><use href="#R" x="552"/></g></g>
<g transform="translate(0 3650)"><g id="n70-1"><use href="#L" x="84"/></g><g id="n70-2"><use href="#L" x="136"/></g><g id="n70-3"><use href="#L" x="188"/></g><g id="n70-4"><use href="#L" x="240"/></g><g id="n70-5"><use href="#L" x="292"/></g><g id="n70-6"><use href="#L" x="344"/></g><g id="n70-7"><use href="#L" x="396"/></g><g id="n70-8"><use href="#L" x="448"/></g><g id="n70-9"><use href="#L" x="500"/></g><g id="n70-10"><use href="#L" x="552"/></g></g>
<g transform="translate(0 3702)"><g id="n71-1"><use href="#R" x="84"/></g><g id="n71-2"><use href="#R" x="136"/></g><g id="n71-3"><use href="#R" x="188"/></g><g id="n71-4"><use href="#R" x="240"/></g><g id="n71-5"><use href="#R" x="292"/></g><g id="n71-6"><use href="#R" x="344"/></g><g id="n71-7"><use href="#R" x="396"/></g><g id="n71-8"><use href="#R" x="448"/></g><g id="n71-9"><use href="#R" x="500"/></g><g id="n71-10"><use href="#R" x="552"/></g></g>
<g transform="translate(0 3754)"><g id="n72-1"><use href="#L" x="84"/></g><g id="n72-2"><use href="#L" x="136"/></g><g id="n72-3"><use href="#L" x="188"/></g><g id="n72-4"><use href="#L" x="240"/></g><g id="n72-5"><use href="#L" x="292"/></g><g id="n72-6"><use href="#L" x="344"/></g><g id="n72-7"><use href="#L" x="396"/></g><g id="n72-8"><use href="#L" x="448"/></g><g id="n72-9"><use href="#L" x="500"/></g><g id="n72-10"><use href="#L" x="552"/></g></g>
<g transform="translate(0 3806)"><g id="n73-1"><use href="#R" x="84"/></g><g id="n73-2"><use href="#R" x="136"/></g><g id="n73-3"><use href="#R" x="188"/></g><g id="n73-4"><use href="#R" x="240"/></g><g id="n73-5"><use href="#R" x="292"/></g><g id="n73-6"><use href="#R" x="344"/></g><g id="n73-7"><use href="#R" x="396"/></g><g id="n73-8"><use href="#R" x="448"/></g><g id="n73-9"><use href="#R" x="500"/></g><g id="n73-10"><use href="#R" x="552"/></g></g>
<g transform="translate(0 3858)"><g id="n74-1"><use href="#L" x="84"/></g><g id="n74-2"><use href="#L" x="136"/></g><g id="n74-3"><use href="#L" x="188"/></g><g id="n74-4"><use href="#L" x="240"/></g><g id="n74-5"><use href="#L" x="292"/></g><g id="n74-6"><use href="#L" x="344"/></g><g id="n74-7"><use href="#L" x="396"/></g><g id="n74-8"><use href="#L" x="448"/></g><g id="n74-9"><use href="#L" x="500"/></g><g id="n74-10"><use href="#L" x="552"/></g></g>
<g transform="translate(0 3910)"><g id="n75-1"><use href="#R" x="84"/></g><g id="n75-2"><use href="#R" x="136"/></g><g id="n75-3"><use href="#R" x="188"/></g><g id="n75-4"><use href="#R" x="240"/></g><g id="n75-5"><use href="#R" x="292"/></g><g id="n75-6"><use href="#R" x="344"/></g><g id="n75-7"><use href="#R" x="396"/></g><g id="n75-8"><use href="#R" x="448"/></g><g id="n75-9"><use href="#R" x="500"/></g><g id="n75-10"><use href="#R" x="552"/></g></g>
<g transform="translate(0 3962)"><g id="n76-1"><use href="#L" x="84"/></g><g id="n76-2"><use href="#L" x="136"/></g><g id="n76-3"><use href="#L" x="188"/></g><g id="n76-4"><use href="#L" x="240"/></g><g id="n76-5"><use href="#L" x="292"/></g><g id="n76-6"><use href="#L" x="344"/></g><g id="n76-7"><use href="#L" x="396"/></g><g id="n76-8"><use href="#L" x="448"/></g><g id="n76-9"><use href="#L" x="500"/></g><g id="n76-10"><use href="#L" x="552"/></g></g>
<g transform="translate(0 4014)"><g id="n77-1"><use href="#R" x="84"/></g><g id="n77-2"><use href="#R" x="136"/></g><g id="n77-3"><use href="#R" x="188"/></g><g id="n77-4"><use href="#R" x="240"/></g><g id="n77-5"><use href="#R" x="292"/></g><g id="n77-6"><use href="#R" x="344"/></g><g id="n77-7"><use href="#R" x="396"/></g><g id="n77-8"><use href="#R" x="448"/></g><g id="n77-9"><use href="#R" x="500"/></g><g id="n77-10"><use href="#R" x="552"/></g></g>
<g transform="translate(0 4066)"><g id="n78-1"><use href="#L" x="84"/></g><g id="n78-2"><use href="#L" x="136"/></g><g id="n78-3"><use href="#L" x="188"/></g><g id="n78-4"><use href="#L" x="240"/></g><g id="n78-5"><use href="#L" x="292"/></g><g id="n78-6"><use href="#L" x="344"/></g><g id="n78-7"><use href="#L" x="396"/></g><g id="n78-8"><use href="#L" x="448"/></g><g id="n78-9"><use href="#L" x="500"/></g><g id="n78-10"><use href="#L" x="552"/></g></g>
<g transform="translate(0 4118)"><g id="n79-1"><use href="#R" x="84"/></g><g id="n79-2"><use href="#R" x="136"/></g><g id="n79-3"><use href="#R" x="188"/></g><g id="n79-4"><use href="#R" x="240"/></g><g id="n79-5"><use href="#R" x="292"/></g><g id="n79-6"><use href="#R" x="344"/></g><g id="n79-7"><use href="#R" x="396"/></g><g id="n79-8"><use href="#R" x="448"/></g><g id="n79-9"><use href="#R" x="500"/></g><g id="n79-10"><use href="#R" x="552"/></g></g>
<g transform="translate(0 4170)"><g id="n80-1"><use href="#L" x="84"/></g><g id="n80-2"><use href="#L" x="136"/></g><g id="n80-3"><use href="#L" x="188"/></g><g id="n80-4"><use href="#L" x="240"/></g><g id="n80-5"><use href="#L" x="292"/></g><g id="n80-6"><use href="#L" x="344"/></g><g id="n80-7"><use href="#L" x="396"/></g><g id="n80-8"><use href="#L" x="448"/></g><g id="n80-9"><use href="#L" x="500"/></g><g id="n80-10"><use href="#L" x="552"/></g></g>
<g transform="translate(0 4222)"><g id="n81-1"><use href="#R" x="84"/></g><g id="n81-2"><use href="#R" x="136"/></g><g id="n81-3"><use href="#R" x="188"/></g><g id="n81-4"><use href="#R" x="240"/></g><g id="n81-5"><use href="#R" x="292"/></g><g id="n81-6"><use href="#R" x="344"/></g><g id="n81-7"><use href="#R" x="396"/></g><g id="n81-8"><use href="#R" x="448"/></g><g id="n81-9"><use href="#R" x="500"/></g><g id="n81-10"><use href="#R" x="552"/></g></g>
<g transform="translate(0 4274)"><g id="n82-1"><use href="#L" x="84"/></g><g id="n82-2"><use href="#L" x="136"/></g><g id="n82-3"><use href="#L" x="188"/></g><g id="n82-4"><use href="#L" x="240"/></g><g id="n82-5"><use href="#L" x="292"/></g><g id="n82-6"><use href="#L" x="344"/></g><g id="n82-7"><use href="#L" x="396"/></g><g id="n82-8"><use href="#L" x="448"/></g><g id="n82-9"><use href="#L" x="500"/></g><g id="n82-10"><use href="#L" x="552"/></g></g>
<g transform="translate(0 4326)"><g id="n83-1"><use href="#R" x="84"/></g><g id="n83-2"><use href="#R" x="136"/></g><g id="n83-3"><use href="#R" x="188"/></g><g id="n83-4"><use href="#R" x="240"/></g><g id="n83-5"><use href="#R" x="292"/></g><g id="n83-6"><use href="#R" x="344"/></g><g id="n83-7"><use href="#R" x="396"/></g><g id="n83-8"><use href="#R" x="448"/></g><g id="n83-9"><use href="#R" x="500"/></g><g id="n83-10"><use href="#R" x="552"/></g></g>
<g transform="translate(0 4378)"><g id="n84-1"><use href="#L" x="84"/></g><g id="n84-2"><use href="#L" x="136"/></g><g id="n84-3"><use href="#L" x="188"/></g><g id="n84-4"><use href="#L" x="240"/></g><g id="n84-5"><use href="#L" x="292"/></g><g id="n84-6"><use href="#L" x="344"/></g><g id="n84-7"><use href="#L" x="396"/></g><g id="n84-8"><use href="#L" x="448"/></g><g id="n84-9"><use href="#L" x="500"/></g><g id="n84-10"><use href="#L" x="552"/></g></g>
<g transform="translate(0 4430)"><g id="n85-1"><use href="#R" x="84"/></g><g id="n85-2"><use href="#R" x="136"/></g><g id="n85-3"><use href="#R" x="188"/></g><g id="n85-4"><use href="#R" x="240"/></g><g id="n85-5"><use href="#R" x="292"/></g><g id="n85-6"><use href="#R" x="344"/></g><g id="n85-7"><use href="#R" x="396"/></g><g id="n85-8"><use href="#R" x="448"/></g><g id="n85-9"><use href="#R" x="500"/></g><g id="n85-10"><use href="#R" x="552"/></g></g>
<g transform="translate(0 4482)"><g id="n86-1"><use href="#L" x="84"/></g><g id="n86-2"><use href="#L" x="136"/></g><g id="n86-3"><use href="#L" x="188"/></g><g id="n86-4"><use href="#L" x="240"/></g><g id="n86-5"><use href="#L" x="292"/></g><g id="n86-6"><use href="#L" x="344"/></g><g id="n86-7"><use href="#L" x="396"/></g><g id="n86-8"><use href="#L" x="448"/></g><g id="n86-9"><use href="#L" x="500"/></g><g id="n86-10"><use href="#L" x="552"/></g></g>
<g transform="translate(0 4534)"><g id="n87-1"><use href="#R" x="84"/></g><g id="n87-2"><use href="#R" x="136"/></g><g id="n87-3"><use href="#R" x="188"/></g><g id="n87-4"><use href="#R" x="240"/></g><g id="n87-5"><use href="#R" x="292"/></g><g id="n87-6"><use href="#R" x="344"/></g><g id="n87-7"><use href="#R" x="396"/></g><g id="n87-8"><use href="#R" x="448"/></g><g id="n87-9"><use href="#R" x="500"/></g><g id="n87-10"><use href="#R" x="552"/></g></g>
<g transform="translate(0 4586)"><g id="n88-1"><use href="#L" x="84"/></g><g id="n88-2"><use href="#L" x="136"/></g><g id="n88-3"><use href="#L" x="188"/></g><g id="n88-4"><use href="#L" x="240"/></g><g id="n88-5"><use href="#L" x="292"/></g><g id="n88-6"><use href="#L" x="344"/></g><g id="n88-7"><use href="#L" x="396"/></g><g id="n88-8"><use href="#L" x="448"/></g><g id="n88-9"><use href="#L" x="500"/></g><g id="n88-10"><use href="#L" x="552"/></g></g>
<g transform="translate(0 4638)"><g id="n89-1"><use href="#R" x="84"/></g><g id="n89-2"><use href="#R" x="136"/></g><g id="n89-3"><use href="#R" x="188"/></g><g id="n89-4"><use href="#R" x="240"/></g><g id="n89-5"><use href="#R" x="292"/></g><g id="n89-6"><use href="#R" x="344"/></g><g id="n89-7"><use href="#R" x="396"/></g><g id="n89-8"><use href="#R" x="448"/></g><g id="n89-9"><use href="#R" x="500"/></g><g id="n89-10"><use href="#R" x="552"/></g></g>
<g transform="translate(0 4690)"><g id="n90-1"><use href="#L" x="84"/></g><g id="n90-2"><use href="#L" x="136"/></g><g id="n90-3"><use href="#L" x="188"/></g><g id="n90-4"><use href="#L" x="240"/></g><g id="n90-5"><use href="#L" x="292"/></g><g id="n90-6"><use href="#L" x="344"/></g><g id="n90-7"><use href="#L" x="396"/></g><g id="n90-8"><use href="#L" x="448"/></g><g id="n90-9"><use href="#L" x="500"/></g><g id="n90-10"><use href="#L" x="552"/></g></g>
</g>
<g id="labels">
<path class="gl" d="M26 114h40m-40 52h40m-40 52h40m-40 52h40m-40 52h40m-40 52h40m-40 52h40m-40 52h40m-40 52h40m-40 52h40m-40 52h40m-40 52h40m-40 52h40m-40 52h40m-40 52h40m-40 52h40m-40 52h40m-40 52h40m-40 52h40m-40 52h40m-40 52h40M26 1258h40m-40 52h40m-40 52h40m-40 52h40m-40 52h40m-40 52h40m-40 52h40m-40 52h40m-40 52h40m-40 52h40m-40 52h40m-40 52h40m-40 52h40m-40 52h40m-40 52h40m-40 52h40m-40 52h40m-40 52h40m-40 52h40m-40 52h40m-40 52h40m-40 52h40m-40 52h40m-40 52h40m-40 52h40m-40 52h40m-40 52h40m-40 52h40m-40 52h40m-40 52h40m-40 52h40m-40 52h40m-40 52h40m-40 52h40m-40 52h40m-40 52h40m-40 52h40m-40 52h40m-40 52h40m-40 52h40m-40 52h40M26 3598h40m-40 52h40m-40 52h40m-40 52h40m-40 52h40m-40 52h40m-40 52h40m-40 52h40m-40 52h40m-40 52h40m-40 52h40m-40 52h40m-40 52h40m-40 52h40m-40 52h40m-40 52h40m-40 52h40m-40 52h40m-40 52h40m-40 52h40m-40 52h40"/>
<path class="gl" d="M570 62h40m-40 52h40m-40 52h40m-40 52h40m-40 52h40m-40 52h40m-40 52h40m-40 52h40m-40 52h40m-40 52h40m-40 52h40m-40 52h40m-40 52h40m-40 52h40m-40 52h40m-40 52h40m-40 52h40m-40 52h40m-40 52h40m-40 52h40m-40 52h40m-40 52h40m-40 52h40m-40 52h40m-40 52h40m-40 52h40m-40 52h40m-40 52h40m-40 52h40m-40 52h40m-40 52h40m-40 52h40m-40 52h40m-40 52h40m-40 52h40m-40 52h40m-40 52h40m-40 52h40m-40 52h40m-40 52h40m-40 52h40m-40 52h40m-40 52h40m-40 52h40m-40 52h40m-40 52h40m-40 52h40m-40 52h40m-40 52h40m-40 52h40m-40 52h40m-40 52h40m-40 52h40m-40 52h40m-40 52h40m-40 52h40m-40 52h40m-40 52h40m-40 52h40m-40 52h40m-40 52h40m-40 52h40m-40 52h40m-40 52h40m-40 52h40m-40 52h40m-40 52h40m-40 52h40m-40 52h40m-40 52h40m-40 52h40m-40 52h40m-40 52h40m-40 52h40m-40 52h40m-40 52h40m-40 52h40m-40 52h40m-40 52h40m-40 52h40m-40 52h40m-40 52h40m-40 52h40m-40 52h40m-40 52h40m-40 52h40m-40 52h40m-40 52h40m-40 52h40m-40 52h40"/>
<g class="t e">
<text x="21" y="67">1</text><text x="21" y="119">2</text><text x="21" y="171">3</text><text x="21" y="223">4</text><text x="21" y="275">5</text><text x="21" y="327">6</text><text x="21" y="379">7</text><text x="21" y="431">8</text><text x="21" y="483">9</text><text x="21" y="535">10</text><text x="21" y="587">11</text><text x="21" y="639">12</text><text x="21" y="691">13</text><text x="21" y="743">14</text><text x="21" y="795">15</text><text x="21" y="847">16</text><text x="21" y="899">17</text><text x="21" y="951">18</text><text x="21" y="1003">19</text><text x="21" y="1055">20</text><text x="21" y="1107">21</text><text x="21" y="1159">22</text><text x="21" y="1211">23</text><text x="21" y="1263">24</text><text x="21" y="1315">25</text><text x="21" y="1367">26</text><text x="21" y="1419">27</text><text x="21" y="1471">28</text><text x="21" y="1523">29</text><text x="21" y="1575">30</text><text x="21" y="1627">31</text><text x="21" y="1679">32</text><text x="21" y="1731">33</text><text x="21" y="1783">34</text><text x="21" y="1835">35</text><text x="21" y="1887">36</text><text x="21" y="1939">37</text><text x="21" y="1991">38</text><text x="21" y="2043">39</text><text x="21" y="2095">40</text><text x="21" y="2147">41</text><text x="21" y="2199">42</text><text x="21" y="2251">43</text><text x="21" y="2303">44</text><text x="21" y="2355">45</text><text x="21" y="2407">46</text><text x="21" y="2459">47</text><text x="21" y="2511">48</text><text x="21" y="2563">49</text><text x="21" y="2615">50</text><text x="21" y="2667">51</text><text x="21" y="2719">52</text><text x="21" y="2771">53</text><text x="21" y="2823">54</text><text x="21" y="2875">55</text><text x="21" y="2927">56</text><text x="21" y="2979">57</text><text x="21" y="3031">58</text><text x="21" y="3083">59</text><text x="21" y="3135">60</text><text x="21" y="3187">61</text><text x="21" y="3239">62</text><text x="21" y="3291">63</text><text x="21" y="3343">64</text><text x="21" y="3395">65</text><text x="21" y="3447">66</text><text x="21" y="3499">67</text><text x="21" y="3551">68</text><text x="21" y="3603">69</text><text x="21" y="3655">70</text><text x="21" y="3707">71</text><text x="21" y="3759">72</text><text x="21" y="3811">73</text><text x="21" y="3863">74</text><text x="21" y="3915">75</text><text x="21" y="3967">76</text><text x="21" y="4019">77</text><text x="21" y="4071">78</text><text x="21" y="4123">79</text><text x="21" y="4175">80</text><text x="21" y="4227">81</text><text x="21" y="4279">82</text><text x="21" y="4331">83</text><text x="21" y="4383">84</text><text x="21" y="4435">85</text><text x="21" y="4487">86</text><text x="21" y="4539">87</text><text x="21" y="4591">88</text><text x="21" y="4643">89</text><text x="21" y="4695">90</text>
</g>
<g class="t">
<text x="614" y="67">1</text><text x="614" y="119">2</text><text x="614" y="171">3</text><text x="614" y="223">4</text><text x="614" y="275">5</text><text x="614" y="327">6</text><text x="614" y="379">7</text><text x="614" y="431">8</text><text x="614" y="483">9</text><text x="614" y="535">10</text><text x="614" y="587">11</text><text x="614" y="639">12</text><text x="614" y="691">13</text><text x="614" y="743">14</text><text x="614" y="795">15</text><text x="614" y="847">16</text><text x="614" y="899">17</text><text x="614" y="951">18</text><text x="614" y="1003">19</text><text x="614" y="1055">20</text><text x="614" y="1107">21</text><text x="614" y="1159">22</text><text x="614" y="1211">23</text><text x="614" y="1263">24</text><text x="614" y="1315">25</text><text x="614" y="1367">26</text><text x="614" y="1419">27</text><text x="614" y="1471">28</text><text x="614" y="1523">29</text><text x="614" y="1575">30</text><text x="614" y="1627">31</text><text x="614" y="1679">32</text><text x="614" y="1731">33</text><text x="614" y="1783">34</text><text x="614" y="1835">35</text><text x="614" y="1887">36</text><text x="614" y="1939">37</text><text x="614" y="1991">38</text><text x="614" y="2043">39</text><text x="614" y="2095">40</text><text x="614" y="2147">41</text><text x="614" y="2199">42</text><text x="614" y="2251">43</text><text x="614" y="2303">44</text><text x="614" y="2355">45</text><text x="614" y="2407">46</text><text x="614" y="2459">47</text><text x="614" y="2511">48</text><text x="614" y="2563">49</text><text x="614" y="2615">50</text><text x="614" y="2667">51</text><text x="614" y="2719">52</text><text x="614" y="2771">53</text><text x="614" y="2823">54</text><text x="614" y="2875">55</text><text x="614" y="2927">56</text><text x="614" y="2979">57</text><text x="614" y="3031">58</text><text x="614" y="3083">59</text><text x="614" y="3135">60</text><text x="614" y="3187">61</text><text x="614" y="3239">62</text><text x="614" y="3291">63</text><text x="614" y="3343">64</text><text x="614" y="3395">65</text><text x="614" y="3447">66</text><text x="614" y="3499">67</text><text x="614" y="3551">68</text><text x="614" y="3603">69</text><text x="614" y="3655">70</text><text x="614" y="3707">71</text><text x="614" y="3759">72</text><text x="614" y="3811">73</text><text x="614" y="3863">74</text><text x="614" y="3915">75</text><text x="614" y="3967">76</text><text x="614" y="4019">77</text><text x="614" y="4071">78</text><text x="614" y="4123">79</text><text x="614" y="4175">80</text><text x="614" y="4227">81</text><text x="614" y="4279">82</text><text x="614" y="4331">83</text><text x="614" y="4383">84</text><text x="614" y="4435">85</text><text x="614" y="4487">86</text><text x="614" y="4539">87</text><text x="614" y="4591">88</text><text x="614" y="4643">89</text><text x="614" y="4695">90</text>
</g>
<g font-family="Liberation Sans, Arial, sans-serif" font-size="10">
<text x="31" y="65.6" fill="#fff">A</text>
<text x="31" y="4693.6" fill="#fff">A</text>
<text x="31" y="1209.6" fill="#000">B</text>
<text x="31" y="3549.6" fill="#000">B</text>
</g>
<text x="320" y="2382" text-anchor="middle" font-family="Liberation Sans, Arial, sans-serif" font-weight="bold" font-size="16" fill="#444" stroke="#fff" stroke-width="2" paint-order="stroke" textLength="155" lengthAdjust="spacingAndGlyphs">BRACELETBOOK.COM</text>
</g>
</svg>
